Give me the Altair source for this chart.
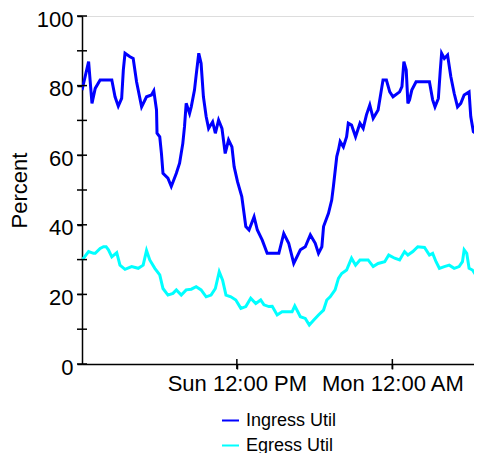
import altair as alt
import pandas as pd

# hours since Sun 00:00
ingress_h = [0.05, 0.56, 0.82, 1.07, 1.45, 2.35, 2.60, 2.85, 3.11, 3.24, 3.37, 3.75, 4.00, 4.26, 4.65,
             5.03, 5.41, 5.59, 5.80, 5.84, 6.05, 6.18, 6.30, 6.68, 6.94, 7.33, 7.58, 7.83, 7.96, 8.09,
             8.35, 8.48, 8.73, 8.86, 9.06, 9.24, 9.42, 9.63, 9.82, 10.13, 10.34, 10.59, 10.85, 11.10,
             11.36, 11.62, 11.79, 12.05, 12.38, 12.69, 12.94, 13.33, 13.58, 13.96, 14.34, 15.24, 15.62,
             16.00, 16.39, 16.90, 17.28, 17.67, 18.05, 18.30, 18.56, 18.69, 19.07, 19.32, 19.45, 19.71,
             19.84, 19.97, 20.22, 20.47, 20.60, 20.85, 21.16, 21.50, 21.75, 22.00, 22.26, 22.52, 22.90,
             23.15, 23.28, 23.54, 23.80, 24.05, 24.56, 24.74, 24.89, 25.07, 25.20, 25.33, 25.50, 25.83,
             26.86, 27.11, 27.29, 27.55, 27.70, 27.80, 28.01, 28.26, 28.51, 28.77, 29.03, 29.28, 29.54,
             29.92, 30.05, 30.25, 30.43]
ingress_v = [78.7, 86.9, 74.9, 79.2, 81.6, 81.6, 76.8, 74.1, 76.3, 84.5, 89.3, 88.3, 87.8, 81.1, 73.9,
             76.8, 77.3, 78.5, 73.0, 66.3, 65.3, 60.5, 54.8, 53.4, 51.0, 54.8, 57.7, 63.4, 68.2, 74.9,
             72.0, 73.9, 78.7, 83.0, 89.3, 86.4, 76.8, 71.1, 67.7, 69.6, 66.3, 70.1, 67.7, 60.5,
             64.4, 62.4, 56.7, 52.4, 48.1, 39.5, 38.5, 42.3, 38.5, 35.6, 31.8, 31.8, 37.5,
             34.7, 28.9, 32.8, 33.7, 37.1, 34.7, 31.8, 33.7, 39.5, 43.3, 47.1, 51.0, 59.6,
             61.5, 63.9, 62.4, 65.3, 69.2, 68.7, 65.3, 69.2, 67.7, 71.6, 74.4, 70.6, 73.0,
             78.7, 81.6, 81.6, 78.2, 76.8, 78.2, 79.7, 86.9, 84.5, 74.9, 75.9, 78.7, 81.1,
             81.1, 75.9, 73.9, 76.3, 84.5, 89.3, 87.8, 88.8, 82.6, 77.8, 73.9, 74.9, 77.3,
             78.2, 71.1, 66.8, 66.3]

egress_h = [0.05, 0.17, 0.56, 0.94, 1.07, 1.45, 1.71, 1.91, 2.09, 2.35, 2.73, 2.98, 3.37, 3.88, 4.39,
            4.77, 5.03, 5.28, 5.67, 6.05, 6.30, 6.68, 7.07, 7.33, 7.71, 8.09, 8.48, 8.86, 9.24, 9.63,
            10.01, 10.34, 10.64, 10.90, 11.16, 11.54, 11.92, 12.31, 12.69, 13.07, 13.46, 13.84, 14.09,
            14.47, 14.73, 15.11, 15.49, 16.26, 16.47, 16.90, 17.28, 17.59, 17.92, 18.30, 18.69, 18.94,
            19.20, 19.58, 19.84, 20.09, 20.47, 20.85, 21.16, 21.50, 22.13, 22.52, 22.90, 23.41, 23.72,
            24.18, 24.56, 24.94, 25.20, 25.58, 25.96, 26.48, 26.86, 27.11, 27.37, 27.63, 28.01, 28.39,
            28.77, 29.15, 29.41, 29.54, 29.74, 29.92, 30.18, 30.43]
egress_v = [30.1, 30.4, 32.3, 31.8, 31.8, 33.2, 33.7, 33.7, 32.8, 30.8, 32.0, 28.4, 27.2, 28.0, 27.5,
            28.4, 32.6, 29.9, 27.5, 25.6, 21.7, 19.8, 20.3, 21.3, 19.8, 21.3, 21.5, 22.2, 21.3, 19.3,
            19.8, 21.7, 26.5, 24.1, 19.8, 19.3, 18.4, 16.0, 16.5, 18.9, 17.4, 18.4, 17.0,
            16.5, 16.6, 14.1, 15.0, 15.0, 16.7, 13.6, 13.1, 11.2, 12.6, 14.1, 15.5, 18.4,
            19.3, 21.3, 24.6, 26.0, 27.0, 30.4, 28.4, 29.9, 29.9, 28.0, 28.9, 29.4, 31.3,
            30.4, 29.9, 32.3, 31.3, 32.3, 33.7, 33.5, 31.3, 31.8, 29.4, 27.5, 28.0, 28.4,
            27.5, 28.0, 29.4, 32.8, 31.8, 27.5, 27.0, 25.6]

series_names = ["Ingress Util", "Egress Util"]
series_colors = ["#0000ff", "#00ffff"]

x_tick_values = [12, 24]
x_tick_labels = ["Sun 12:00 PM", "Mon 12:00 AM"]
x_domain = [0.05, 30.3]
y_tick_values = [0, 10, 20, 30, 40, 50, 60, 70, 80, 90, 100]

FONT = "Liberation Sans"

df = pd.concat([
    pd.DataFrame({"hour": ingress_h, "value": ingress_v, "series": series_names[0]}),
    pd.DataFrame({"hour": egress_h, "value": egress_v, "series": series_names[1]}),
])

label_expr = " : ".join(
    f"datum.value == {v} ? '{l}'" for v, l in zip(x_tick_values, x_tick_labels)
) + " : ''"

x_scale = alt.Scale(domain=x_domain, nice=False, zero=False)
y_scale = alt.Scale(domain=[0, 100], nice=False)

lines = alt.Chart(df).mark_line(strokeWidth=3, clip=True).encode(
    x=alt.X("hour:Q", scale=x_scale,
            axis=alt.Axis(values=x_tick_values, labelExpr=label_expr, title=None, grid=False,
                          domainColor="black", domainWidth=1.5, tickColor="black", tickWidth=1.5,
                          tickSize=5, labelPadding=4, labelFont=FONT, labelFontSize=22,
                          labelColor="black", labelFlush=False, labelOverlap=False)),
    y=alt.Y("value:Q", scale=y_scale,
            axis=alt.Axis(values=y_tick_values, labelExpr="datum.value % 20 == 0 ? datum.label : ''",
                          title="Percent", titleFont=FONT, titleFontSize=22, titleFontWeight="normal",
                          titleColor="black", titlePadding=5, grid=False,
                          domainColor="black", domainWidth=1.5, tickColor="black", tickWidth=1.5,
                          tickSize=5, labelPadding=4, labelFont=FONT, labelFontSize=22,
                          labelColor="black", labelOffset=3, labelFlush=False, labelOverlap=False)),
    color=alt.Color("series:N", scale=alt.Scale(domain=series_names, range=series_colors),
                    sort=series_names,
                    legend=alt.Legend(title=None, orient="none", legendX=139, legendY=395,
                                      symbolType="stroke", symbolSize=289, symbolStrokeWidth=2,
                                      labelFont=FONT, labelFontSize=18, labelColor="black",
                                      labelOffset=6, rowPadding=6, padding=0)),
)

ytick_df = pd.DataFrame({"v": y_tick_values})
yticks = alt.Chart(ytick_df).mark_tick(orient="horizontal", color="black", size=10,
                                       thickness=1.5, opacity=1).encode(
    y=alt.Y("v:Q", scale=y_scale),
    x=alt.datum(x_domain[0]),
)

xtick_df = pd.DataFrame({"h": x_tick_values})
xticks = alt.Chart(xtick_df).mark_tick(orient="vertical", color="black", size=10,
                                       thickness=1.5, opacity=1).encode(
    x=alt.X("h:Q", scale=x_scale),
    y=alt.datum(0),
)

chart = alt.layer(lines, yticks, xticks).properties(
    width=392, height=348,
    padding={"left": 74, "top": 8, "right": 0, "bottom": 89},
    autosize=alt.AutoSizeParams(type="none"),
).configure_view(stroke=None).configure(background="white")

chart.save("out.html", embed_options={"renderer": "svg", "actions": False})
